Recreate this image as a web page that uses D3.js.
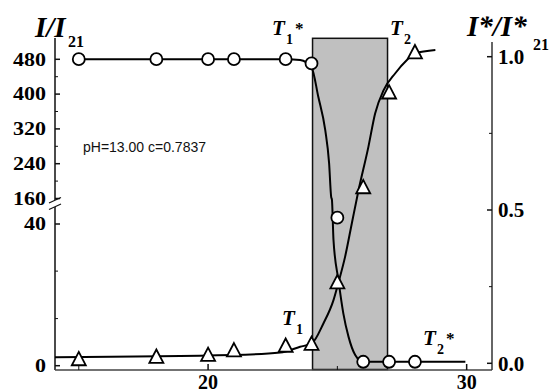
<!DOCTYPE html>
<html>
<head>
<meta charset="utf-8">
<script src="https://cdn.jsdelivr.net/npm/d3@7"></script>
<style>
  html, body { margin: 0; padding: 0; background: #fff; }
  svg { display: block; }
</style>
</head>
<body>
<div id="chart"></div>
<script>
// ── data ──
const temps = [15, 18, 20, 21, 23, 24, 25, 26, 27, 28];
const circleVals = [0.992, 0.992, 0.992, 0.992, 0.992, 0.978, 0.475, 0.005, 0.005, 0.005];
const triangleVals = [0.008, 0.016, 0.022, 0.037, 0.052, 0.058, 0.259, 0.569, 0.878, 1.009];

// fitted curves (x, y pairs)
const circleFitX = [15.01, 23.02, 23.56, 24.01, 24.26, 24.53, 24.68, 24.76, 24.79, 24.85, 25.04, 25.23, 25.43, 25.69, 26.0, 29.95];
const circleFitY = [0.992, 0.992, 0.989, 0.963, 0.870, 0.761, 0.653, 0.543, 0.533, 0.402, 0.272, 0.163, 0.087, 0.027, 0.005, 0.005];
const triFitX = [14.08, 20.97, 22.79, 23.56, 24.01, 24.46, 24.85, 25.04, 25.30, 25.56, 25.82, 26.20, 26.46, 26.79, 27.24, 27.69, 28.01, 28.79];
const triFitY = [0.020, 0.027, 0.035, 0.054, 0.065, 0.130, 0.206, 0.263, 0.348, 0.457, 0.565, 0.706, 0.815, 0.891, 0.946, 0.989, 1.011, 1.022];

// shaded transition band
const bandRange = [24.04, 26.94];

// axes ticks
const xMajor = [20, 30];
const xMinor = [15, 25];
const leftMajor = [0, 40, 160, 240, 320, 400, 480];
const leftMinor = [13.3, 26.7, 200, 280, 360, 440];
const rightMajor = [0, 0.5, 1.0];
const rightMinor = [0.25, 0.75];

const width = 551, height = 392;
const serif = "'Liberation Serif', 'Times New Roman', serif";

const svg = d3.select("#chart").append("svg")
  .attr("width", width).attr("height", height)
  .attr("viewBox", [0, 0, width, height]);

const x = d3.scaleLinear().domain([14.08, 30.98]).range([55, 492]);
const yR = d3.scaleLinear().domain([0, 1]).range([363.3, 56.7]);
// broken left axis: 0-40 lower segment, 160-480 upper segment
const yL = d3.scaleLinear().domain([0, 40, 160, 480]).range([365.7, 224, 198.5, 59.3]);

// ── shaded band ──
svg.append("rect")
  .attr("x", x(bandRange[0])).attr("y", 38.3)
  .attr("width", x(bandRange[1]) - x(bandRange[0]))
  .attr("height", 369.5 - 38.3)
  .attr("fill", "#c0c0c0").attr("stroke", "#111").attr("stroke-width", 1.5);

// ── axes lines ──
const axisG = svg.append("g").attr("stroke", "#111").attr("stroke-width", 1.5).attr("fill", "none");
axisG.append("path").attr("d", `M55,38V200M55,207V370`);
axisG.append("path").attr("d", `M55,370H492`).attr("stroke", "#444");
axisG.append("path").attr("d", `M492,42V370`).attr("stroke", "#333");

// break marks
axisG.selectAll("path.brk").data([0, 6.5]).join("path")
  .attr("class", "brk").attr("stroke-width", 1.2)
  .attr("d", d => `M49,${203 + d}L61,${197.5 + d}`);

// ticks
axisG.selectAll("path.lt").data(leftMajor).join("path").attr("class", "lt")
  .attr("d", d => `M55,${yL(d)}h5`);
axisG.selectAll("path.ltm").data(leftMinor).join("path").attr("class", "ltm")
  .attr("stroke-width", 1).attr("d", d => `M55,${yL(d)}h3`);
axisG.selectAll("path.rt").data(rightMajor).join("path").attr("class", "rt")
  .attr("d", d => `M492,${yR(d)}h-5`);
axisG.selectAll("path.rtm").data(rightMinor).join("path").attr("class", "rtm")
  .attr("stroke-width", 1).attr("d", d => `M492,${yR(d)}h-3`);
axisG.selectAll("path.bt").data(xMajor).join("path").attr("class", "bt")
  .attr("d", d => `M${x(d)},370v-6`);
axisG.selectAll("path.btm").data(xMinor).join("path").attr("class", "btm")
  .attr("stroke-width", 1).attr("d", d => `M${x(d)},370v-4`);

// tick labels
svg.append("g").selectAll("text").data(leftMajor).join("text")
  .attr("x", 46).attr("y", d => yL(d)).attr("dy", "0.35em")
  .attr("text-anchor", "end")
  .attr("font-family", serif).attr("font-weight", "bold").attr("font-size", "18px")
  .attr("textLength", d => String(d).length * 11).attr("lengthAdjust", "spacingAndGlyphs")
  .text(d => d);

svg.append("g").selectAll("text").data(rightMajor).join("text")
  .attr("x", 498).attr("y", d => yR(d)).attr("dy", "0.35em")
  .attr("font-family", serif).attr("font-weight", "bold").attr("font-size", "21px")
  .text(d => d.toFixed(1));

svg.append("g").selectAll("text").data(xMajor).join("text")
  .attr("x", d => x(d)).attr("y", 389)
  .attr("text-anchor", "middle")
  .attr("font-family", serif).attr("font-weight", "bold").attr("font-size", "20px")
  .text(d => d);

// ── fitted curves ──
const line = d3.line().x(d => x(d[0])).y(d => yR(d[1])).curve(d3.curveMonotoneX);
svg.append("path")
  .attr("d", line(d3.zip(circleFitX, circleFitY)))
  .attr("fill", "none").attr("stroke", "#000").attr("stroke-width", 2);
svg.append("path")
  .attr("d", line(d3.zip(triFitX, triFitY)))
  .attr("fill", "none").attr("stroke", "#000").attr("stroke-width", 2);

// ── markers ──
svg.append("g").selectAll("path").data(d3.zip(temps, triangleVals)).join("path")
  .attr("transform", d => `translate(${x(d[0])},${yR(d[1])})`)
  .attr("d", "M0,-8.9L7,4.4H-7Z")
  .attr("fill", "#fff").attr("stroke", "#000").attr("stroke-width", 1.8);

svg.append("g").selectAll("circle").data(d3.zip(temps, circleVals)).join("circle")
  .attr("cx", d => x(d[0])).attr("cy", d => yR(d[1])).attr("r", 6)
  .attr("fill", "#fff").attr("stroke", "#000").attr("stroke-width", 1.8);

// ── axis titles ──
const t1 = svg.append("text").attr("x", 35).attr("y", 37)
  .attr("font-family", serif).attr("font-weight", "bold").attr("font-style", "italic")
  .attr("font-size", "29px").text("I/I");
t1.append("tspan").attr("x", 68).attr("y", 47).attr("font-style", "normal").attr("font-size", "16px").text("21");

const t2 = svg.append("text").attr("x", 467).attr("y", 36)
  .attr("font-family", serif).attr("font-weight", "bold").attr("font-style", "italic")
  .attr("font-size", "29px").text("I*/I*");
t2.append("tspan").attr("x", 533).attr("y", 50).attr("font-style", "normal").attr("font-size", "16px").text("21");

// ── T labels ──
const tLabels = [
  { x: 272, y: 35, sub: "1", star: true },
  { x: 390, y: 35, sub: "2", star: false },
  { x: 282, y: 325, sub: "1", star: false },
  { x: 423, y: 345, sub: "2", star: true }
];
tLabels.forEach(t => {
  const txt = svg.append("text").attr("x", t.x).attr("y", t.y)
    .attr("font-family", serif).attr("font-weight", "bold").attr("font-style", "italic")
    .attr("font-size", "21px").text("T");
  txt.append("tspan").attr("x", t.x + 14).attr("y", t.y + 9)
    .attr("font-style", "normal").attr("font-size", "14px").text(t.sub);
  if (t.star) txt.append("tspan").attr("x", t.x + 23).attr("y", t.y - 1)
    .attr("font-style", "normal").attr("font-size", "17px").text("*");
});

// annotation
svg.append("text").attr("x", 83).attr("y", 152.3)
  .attr("font-family", "'Liberation Sans', Arial, sans-serif").attr("font-size", "14px")
  .attr("fill", "#111")
  .text("pH=13.00 c=0.7837");
</script>
</body>
</html>
